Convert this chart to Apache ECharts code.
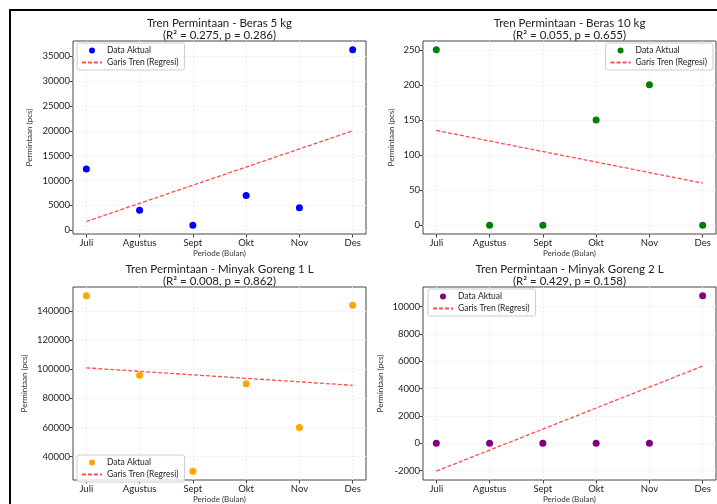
<!DOCTYPE html>
<html>
<head>
<meta charset="utf-8">
<script src="https://cdn.jsdelivr.net/npm/echarts@6/dist/echarts.min.js"></script>
<style>
  html, body { margin: 0; padding: 0; background: #fff; }
  #chart { width: 717px; height: 504px; }
</style>
</head>
<body>
<div id="chart"></div>
<script>
// data
var bulan = ['Juli', 'Agustus', 'Sept', 'Okt', 'Nov', 'Des'];
var bulanIdx = [0, 1, 2, 3, 4, 5];

var beras5 = [12300, 4000, 1000, 7000, 4500, 36300];
var beras5Tren = [1750, 20000];
var beras5Ticks = [0, 5000, 10000, 15000, 20000, 25000, 30000, 35000];

var beras10 = [250, 0, 0, 150, 200, 0];
var beras10Tren = [135, 60];
var beras10Ticks = [0, 50, 100, 150, 200, 250];

var minyak1 = [150500, 96000, 30000, 90000, 60000, 144000];
var minyak1Tren = [101000, 89000];
var minyak1Ticks = [40000, 60000, 80000, 100000, 120000, 140000];

var minyak2 = [0, 0, 0, 0, 0, 10800];
var minyak2Tren = [-2050, 5650];
var minyak2Ticks = [-2000, 0, 2000, 4000, 6000, 8000, 10000];

var FONT = 'Lato, sans-serif';

var panels = [
  { judul: 'Tren Permintaan - Beras 5 kg', stat: '(R\u00B2 = 0.275, p = 0.286)',
    data: beras5, tren: beras5Tren, ticks: beras5Ticks, color: '#0000ff',
    yMin: -765, yMax: 38065, left: 73, top: 41, nameGap: 40,
    legend: { left: 77, top: 43 } },
  { judul: 'Tren Permintaan - Beras 10 kg', stat: '(R\u00B2 = 0.055, p = 0.655)',
    data: beras10, tren: beras10Tren, ticks: beras10Ticks, color: '#008000',
    yMin: -12.5, yMax: 262.5, left: 423, top: 41, nameGap: 28,
    legend: { right: 4, top: 43 } },
  { judul: 'Tren Permintaan - Minyak Goreng 1 L', stat: '(R\u00B2 = 0.008, p = 0.862)',
    data: minyak1, tren: minyak1Tren, ticks: minyak1Ticks, color: '#ffa500',
    yMin: 23975, yMax: 156525, left: 73, top: 287, nameGap: 45,
    legend: { left: 77, top: 455 } },
  { judul: 'Tren Permintaan - Minyak Goreng 2 L', stat: '(R\u00B2 = 0.429, p = 0.158)',
    data: minyak2, tren: minyak2Tren, ticks: minyak2Ticks, color: '#800080',
    yMin: -2700, yMax: 11440, left: 423, top: 287, nameGap: 39,
    legend: { left: 428, top: 289 } }
];

var W = 293, H = 193;
var option = {
  animation: false,
  textStyle: { fontFamily: FONT },
  title: [], grid: [], xAxis: [], yAxis: [], series: [], legend: [],
  graphic: [{
    type: 'polyline',
    shape: { points: [[10, 504], [10, 10], [717, 10]] },
    style: { stroke: '#000', lineWidth: 2, fill: null }
  }]
};

panels.forEach(function (p, i) {
  option.title.push({
    text: p.judul + '\n' + p.stat,
    left: p.left + W / 2, top: p.top - 24, textAlign: 'center', padding: 0,
    textStyle: { fontSize: 11.5, fontWeight: 'normal', color: '#222', lineHeight: 12, fontFamily: FONT }
  });
  option.grid.push({
    left: p.left, top: p.top, width: W, height: H,
    show: true, borderColor: '#444', borderWidth: 1, backgroundColor: 'transparent'
  });
  option.xAxis.push({
    gridIndex: i, type: 'value', min: -0.25, max: 5.25,
    name: 'Periode (Bulan)', nameLocation: 'middle', nameGap: 15,
    nameTextStyle: { fontSize: 8, color: '#333', fontFamily: FONT },
    axisLine: { show: false, onZero: false },
    axisTick: { show: true, length: 3.5, customValues: bulanIdx, lineStyle: { color: '#444' } },
    axisLabel: { customValues: bulanIdx, margin: 4, fontSize: 9.5, color: '#222', fontFamily: FONT,
      formatter: function (v) { return bulan[Math.round(v)]; } },
    splitLine: { show: true, lineStyle: { color: '#eeeeee', type: [2, 2] } }
  });
  option.yAxis.push({
    gridIndex: i, type: 'value', min: p.yMin, max: p.yMax,
    name: 'Permintaan (pcs)', nameLocation: 'middle', nameGap: p.nameGap,
    nameTextStyle: { fontSize: 8, color: '#333', fontFamily: FONT },
    axisLine: { show: false, onZero: false },
    axisTick: { show: true, length: 3.5, customValues: p.ticks, lineStyle: { color: '#444' } },
    axisLabel: { customValues: p.ticks, margin: 3, fontSize: 9.5, color: '#222', fontFamily: FONT,
      formatter: function (v) { return String(v); } },
    splitLine: { show: true, lineStyle: { color: '#eeeeee', type: [2, 2] } }
  });
  option.series.push({
    name: 'Data Aktual#' + i, type: 'scatter', xAxisIndex: i, yAxisIndex: i,
    symbolSize: 7, itemStyle: { color: p.color, opacity: 1 }, z: 3,
    data: p.data.map(function (v, k) { return [k, v]; })
  });
  option.series.push({
    name: 'Garis Tren (Regresi)#' + i, type: 'line', xAxisIndex: i, yAxisIndex: i,
    symbol: 'none', itemStyle: { color: 'rgba(255,0,0,0.7)' },
    lineStyle: { color: 'rgba(255,0,0,0.7)', width: 1.3, type: [4, 2] },
    data: [[0, p.tren[0]], [5, p.tren[1]]]
  });
  var lg = {
    orient: 'vertical', selectedMode: false,
    data: [
      { name: 'Data Aktual#' + i, icon: 'circle' },
      { name: 'Garis Tren (Regresi)#' + i, itemStyle: { opacity: 0 } }
    ],
    formatter: function (n) { return n.split('#')[0]; },
    itemWidth: 20, itemHeight: 6, itemGap: 3, padding: [3, 6, 3, 4],
    borderColor: '#ccc', borderWidth: 1, borderRadius: 2,
    backgroundColor: 'rgba(255,255,255,0.8)',
    textStyle: { fontSize: 8.5, color: '#222', fontFamily: FONT }
  };
  for (var k in p.legend) lg[k] = p.legend[k];
  option.legend.push(lg);
});

var chart = echarts.init(document.getElementById('chart'));
chart.setOption(option);
</script>
</body>
</html>
